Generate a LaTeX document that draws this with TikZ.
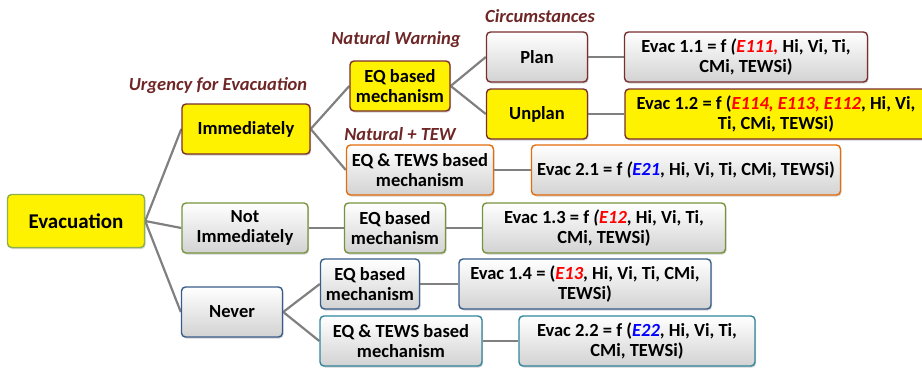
\documentclass[tikz,border=0pt]{standalone}
\usepackage{fontspec}
\setmainfont{Carlito}
\usetikzlibrary{shadows,backgrounds}

\definecolor{granate}{HTML}{7A2E2E}
\definecolor{textogranate}{HTML}{6E2626}
\definecolor{verdeclaro}{HTML}{8DB14B}
\definecolor{oliva}{HTML}{77933C}
\definecolor{azulgris}{HTML}{385D8A}
\definecolor{naranja}{HTML}{E46C0A}
\definecolor{verdeazul}{HTML}{31859C}

\newcommand{\rojo}[1]{\textcolor{red}{\itshape #1}}
\newcommand{\azul}[1]{\textcolor{blue}{\itshape #1}}

\begin{document}
\begin{tikzpicture}[x=1pt,y=-1pt,
	caja/.style={draw, line width=1.4pt, rounded corners=4pt, align=center,
		font=\bfseries\fontsize{18.5}{20}\selectfont, inner sep=1pt,
		minimum height=50,
		drop shadow={opacity=0.35, shadow xshift=1pt, shadow yshift=-1.5pt}},
	gris/.style={top color=white, bottom color=gray!35},
	amarilla/.style={fill=yellow},
	rama/.style={draw=gray, line width=2.2pt},
	etiqueta/.style={text=textogranate, font=\bfseries\itshape\fontsize{18.5}{20}\selectfont}]
	
	\useasboundingbox (0,0) rectangle (922,370);
	\clip (0,0) rectangle (922,370);
	
	% Raiz
	\node[caja, amarilla, draw=verdeclaro, minimum width=137, minimum height=53,
		font=\bfseries\fontsize{21}{23}\selectfont] (evac) at (76,221) {Evacuation};
	
	% Urgencia
	\node[caja, amarilla, draw=granate, minimum width=128] (inm) at (246,129) {Immediately};
	\node[caja, gris, draw=oliva, minimum width=126] (noinm) at (245,228) {Not\\Immediately};
	\node[caja, gris, draw=azulgris, minimum width=101] (nunca) at (232,312) {Never};
	
	% Mecanismos
	\node[caja, amarilla, draw=granate, minimum width=100] (eqa) at (400,86) {EQ based\\mechanism};
	\node[caja, gris, draw=naranja, minimum width=147] (tewa) at (420,170) {EQ \& TEWS based\\mechanism};
	\node[caja, gris, draw=oliva, minimum width=101] (eqb) at (395,228) {EQ based\\mechanism};
	\node[caja, gris, draw=azulgris, minimum width=99] (eqc) at (370,284) {EQ based\\mechanism};
	\node[caja, gris, draw=verdeazul, minimum width=162] (tewc) at (401,341) {EQ \& TEWS based\\mechanism};
	
	% Circunstancias
	\node[caja, gris, draw=granate, minimum width=101] (plan) at (537,57) {Plan};
	\node[caja, amarilla, draw=granate, minimum width=101] (noplan) at (537,114) {Unplan};
	
	% Funciones de evacuacion
	\node[caja, gris, draw=granate, minimum width=243] (ev11) at (746,57)
		{Evac 1.1 = f \textit{(}\rojo{E111,} Hi, Vi, Ti,\\CMi, TEWSi)};
	\node[caja, amarilla, draw=granate, minimum width=302] (ev12) at (776,114)
		{Evac 1.2 = f (\rojo{E114, E113, E112}, Hi, Vi,\\Ti, CMi, TEWSi)};
	\node[caja, gris, draw=naranja, minimum width=309] (ev21) at (686,170)
		{Evac 2.1 = f \textit{(}\azul{E21}, Hi, Vi, Ti, CMi, TEWSi)};
	\node[caja, gris, draw=oliva, minimum width=243] (ev13) at (604,228)
		{Evac 1.3 = f \textit{(}\rojo{E12}, Hi, Vi, Ti,\\CMi, TEWSi)};
	\node[caja, gris, draw=azulgris, minimum width=252] (ev14) at (585,284)
		{Evac 1.4 = (\rojo{E13}, Hi, Vi, Ti, CMi,\\TEWSi)};
	\node[caja, gris, draw=verdeazul, minimum width=236] (ev22) at (637,341)
		{Evac 2.2 = f (\azul{E22}, Hi, Vi, Ti,\\CMi, TEWSi)};
	
	% Etiquetas de niveles
	\node[etiqueta] (urg) at (218,86) {Urgency for Evacuation};
	\node[etiqueta] (nat) at (396,40) {Natural Warning};
	\node[etiqueta] (circ) at (540,16) {Circumstances};
	\node[etiqueta] (natew) at (400,134) {Natural + TEW};
	
	% Ramas
	\begin{scope}[on background layer]
		\foreach \h in {inm,noinm,nunca} \draw[rama] (evac.east) -- (\h.west);
		\foreach \h in {eqa,tewa} \draw[rama] (inm.east) -- (\h.west);
		\foreach \h in {plan,noplan} \draw[rama] (eqa.east) -- (\h.west);
		\foreach \h in {eqc,tewc} \draw[rama] (nunca.east) -- (\h.west);
		\draw[rama] (noinm) -- (eqb);
		\draw[rama] (eqb) -- (ev13);
		\draw[rama] (plan) -- (ev11);
		\draw[rama] (noplan.east) -- (ev12.west);
		\draw[rama] (tewa) -- (ev21);
		\draw[rama] (eqc) -- (ev14);
		\draw[rama] (tewc) -- (ev22);
	\end{scope}
\end{tikzpicture}
\end{document}
